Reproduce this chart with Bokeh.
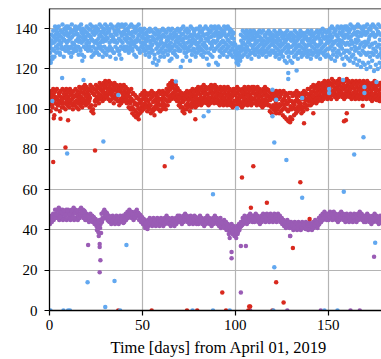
import numpy as np
from bokeh.plotting import figure
from bokeh.models import Range1d, Span, FixedTicker, Title
from bokeh.embed import file_html
from bokeh.resources import INLINE

DAYS = list(range(179))
X_TICKS = [0, 50, 100, 150]
Y_TICKS = [0, 20, 40, 60, 80, 100, 120, 140]
X_LABEL = "Time [days] from April 01, 2019"

# ---- blue series (six samples per day) ----
BLUE_A = [135,137,139,141,140,141,139,142,140,141, 141,140,142,139,141,140,141,142,140,139,
          141,140,142,141,139,141,140,142,141,140, 142,141,140,142,141,139,141,142,141,142,
          141,142,140,141,142,141,140,141,142,140, 139,140,138,139,140,139,138,140,139,138,
          139,140,139,138,140,139,140,138,139,140, 139,140,141,139,140,139,141,140,139,140,
          140,141,139,140,141,140,139,141,140,141, 140,141,140,139,141,140,141,140,139,138,
          132,130,131,137,139,138,139,138,139,138, 139,138,137,139,138,139,137,138,139,138,
          137,139,138,137,139,138,137,138,139,137, 138,137,139,138,137,139,138,137,138,139,
          138,139,137,138,139,138,139,140,139,138, 139,140,141,140,139,141,140,141,140,141,
          141,140,142,141,140,141,142,141,140,141, 141,142,140,141,142,141,140,142,141]
BLUE_B = [131,134,136,137,138,137,136,138,137,138, 137,138,136,137,139,137,136,138,137,136,
          138,137,136,138,137,138,139,137,136,138, 137,138,139,137,136,138,137,139,138,137,
          138,137,139,138,137,136,138,139,137,138, 136,135,137,136,134,136,135,137,135,136,
          135,137,136,134,136,137,135,136,137,135, 136,137,135,136,138,136,137,135,137,136,
          137,136,138,137,135,137,138,136,137,138, 137,138,136,137,138,136,137,138,136,135,
          129,127,128,134,136,135,136,135,137,136, 135,136,134,136,135,134,136,135,134,136,
          135,134,136,135,134,136,135,134,135,136, 134,135,136,134,135,136,134,135,136,134,
          135,136,134,135,136,135,134,136,135,136, 136,137,136,138,137,136,138,137,136,137,
          137,138,136,137,138,137,136,138,137,138, 137,138,136,137,138,136,137,138,137]
BLUE_C = [128,130,133,134,135,134,133,135,134,133, 134,135,133,132,134,135,134,133,134,135,
          134,133,135,134,133,134,135,133,134,135, 134,135,133,134,135,134,133,135,134,133,
          135,134,133,135,134,133,134,135,134,133, 133,132,134,131,133,132,134,133,131,132,
          133,131,132,134,132,133,131,132,134,133, 132,134,133,131,133,134,132,133,134,132,
          133,134,132,133,131,134,133,132,134,133, 134,132,133,134,133,132,134,133,132,133,
          127,126,127,131,133,132,131,133,132,131, 132,133,131,132,133,131,132,133,131,132,
          132,131,133,132,131,132,133,131,132,131, 131,132,133,131,132,131,133,132,131,132,
          132,131,133,132,131,132,133,131,132,133, 133,134,132,133,134,132,133,134,133,132,
          133,132,134,133,131,133,134,132,133,131, 132,133,131,132,130,133,131,132,130]
BLUE_D = [124,126,129,131,130,128,131,130,129,131, 130,131,128,130,129,131,130,127,131,130,
          131,130,129,131,128,130,131,130,129,131, 130,129,131,130,128,131,130,129,131,130,
          131,130,129,131,130,132,131,130,129,131, 130,129,131,128,130,129,127,130,128,129,
          130,128,129,131,129,130,128,129,131,130, 129,131,130,128,130,131,129,130,128,130,
          131,130,129,131,130,128,130,131,129,130, 131,129,130,131,129,130,131,129,130,129,
          125,124,125,129,130,129,130,129,128,130, 129,130,128,129,130,128,129,130,128,129,
          129,128,130,129,128,129,130,128,129,128, 128,129,130,128,129,128,130,129,128,129,
          129,128,130,129,128,129,130,128,129,130, 130,131,129,130,128,129,131,130,128,129,
          129,128,130,127,129,130,128,127,129,128, 127,128,126,128,127,129,126,127,128]
BLUE_E = [123,125,126,128,132,127,130,126,131,129, 128,126,130,129,131,127,129,124,126,130,
          129,131,126,127,130,128,127,131,126,128, 127,130,126,129,128,125,129,127,125,130,
          129,131,128,130,129,127,126,130,128,131, 129,127,130,126,128,123,125,122,124,126,
          128,126,129,127,124,125,128,127,126,129, 121,124,128,126,129,124,127,129,126,128,
          129,127,126,128,125,122,127,126,129,123, 122,126,128,127,129,126,128,127,126,128,
          123,122,124,126,127,128,126,127,125,128, 127,129,126,128,127,129,126,128,127,129,
          128,126,127,125,127,126,124,123,126,124, 123,126,127,125,128,126,127,128,126,127,
          125,127,128,126,127,125,128,127,126,127, 126,125,127,124,126,128,127,125,122,126,
          125,124,126,123,125,122,124,121,123,122, 120,123,121,124,119,122,120,123,121]
BLUE_F = [132.5,129.5,135.5,138.5,136.5,132.5,138.5,134.5,139.5,136.5,
          135.5,138.5,132.5,140.5,137.5,133.5,139.5,135.5,138.5,132.5,
          136.5,139.5,134.5,137.5,140.5,132.5,136.5,138.5,133.5,139.5,
          135.5,138.5,136.5,140.5,133.5,137.5,139.5,134.5,136.5,138.5,
          139.5,135.5,137.5,132.5,138.5,140.5,133.5,136.5,139.5,135.5,
          137.5,133.5,135.5,138.5,131.5,134.5,137.5,132.5,136.5,133.5,
          136.5,132.5,138.5,134.5,130.5,135.5,137.5,133.5,135.5,138.5,
          134.5,137.5,131.5,135.5,138.5,133.5,136.5,138.5,132.5,135.5,
          138.5,134.5,136.5,131.5,137.5,135.5,138.5,133.5,136.5,139.5,
          135.5,137.5,133.5,138.5,136.5,134.5,139.5,135.5,137.5,131.5,
          128.5,125.5,129.5,132.5,135.5,137.5,133.5,136.5,134.5,137.5,
          133.5,136.5,138.5,134.5,132.5,136.5,133.5,137.5,135.5,133.5,
          136.5,133.5,134.5,137.5,132.5,135.5,133.5,136.5,130.5,134.5,
          136.5,133.5,131.5,135.5,137.5,133.5,136.5,130.5,134.5,137.5,
          133.5,137.5,135.5,131.5,136.5,133.5,137.5,135.5,138.5,134.5,
          138.5,135.5,133.5,139.5,136.5,134.5,131.5,138.5,135.5,139.5,
          135.5,139.5,132.5,137.5,134.5,138.5,130.5,136.5,139.5,133.5,
          138.5,134.5,139.5,132.5,136.5,128.5,138.5,134.5,125.5]
BLUE_OUT_T = [1.5, 6.8, 18.3, 37, 68, 85.6, 83, 101, 120, 122, 136, 120, 150.5, 150.5, 158, 169.5,
              169.5, 176, 128.5, 128.5, 133, 9.5, 29, 66, 88, 121, 127.5, 136, 169, 164, 158.4,
              20.5, 35, 30, 41.4, 121, 175.3]
BLUE_OUT_V = [104, 115.5, 114.5, 107, 113.7, 99, 96.5, 100.5, 109.7, 104.7, 105.5, 96.5, 110, 108, 114.5, 111,
              108, 113.5, 118, 115, 119.2, 78, 84, 76, 57.7, 83.5, 74.7, 56, 86, 77.5, 59,
              14, 14.7, 1.7, 32.5, 21.5, 33.7]
BLUE_ZERO_T = [0.5, 7.5, 10, 11, 38, 77, 88, 97, 120.5, 148, 155]

# ---- red series (five samples per day) ----
RED_A = [108,109,110,109,110,108,109,110,109,110, 109,110,108,109,110,109,111,110,111,112,
         111,110,112,111,110,112,111,113,112,113, 114,113,114,113,112,113,112,111,112,111,
         112,111,110,109,110,108,107,106,105,107, 108,109,108,107,108,109,108,107,108,109,
         108,109,108,110,112,113,114,113,112,110, 109,108,107,108,109,108,109,110,109,110,
         111,110,111,112,111,110,111,112,111,112, 111,110,111,110,111,110,111,110,109,110,
         110,111,110,109,110,111,110,111,110,111, 111,110,111,110,109,110,111,110,109,108,
         109,108,109,108,109,108,109,108,107,108, 108,107,108,109,108,107,108,109,108,110,
         110,111,112,111,112,113,112,113,114,113, 114,113,115,114,113,114,115,114,113,114,
         115,114,113,114,113,114,113,114,113,114, 113,114,113,112,113,114,113,112,113]
RED_B = [105,106,107,106,105,107,106,105,106,107, 106,107,105,106,107,106,107,106,108,107,
         108,107,109,108,107,109,108,110,109,110, 111,110,111,110,109,110,109,108,109,108,
         109,108,107,106,105,104,103,102,103,104, 105,106,105,104,105,106,104,105,106,105,
         105,106,105,107,109,110,111,110,109,107, 106,105,104,105,106,105,106,107,106,107,
         108,107,108,109,108,107,108,109,108,109, 108,107,108,107,108,107,108,107,106,107,
         107,108,107,106,107,108,107,108,107,108, 108,107,108,107,106,107,108,107,106,105,
         106,105,106,105,106,104,105,104,103,104, 104,103,104,105,104,103,105,106,105,107,
         107,108,109,108,109,110,109,110,111,110, 111,110,112,111,110,111,112,111,110,111,
         112,111,110,111,110,111,110,111,110,111, 110,111,110,109,110,111,110,109,110]
RED_C = [103,102,104,103,102,104,103,101,103,104, 103,104,102,103,104,103,104,103,105,104,
         105,104,102,100,104,106,105,107,106,107, 108,107,108,107,106,107,106,104,105,106,
         106,105,104,103,101,100,99,98,100,101, 102,103,102,101,102,100,101,102,103,102,
         102,103,102,104,106,107,108,107,106,104, 103,101,100,102,103,102,103,104,103,104,
         105,104,105,106,105,104,105,106,105,106, 105,104,105,104,105,104,105,104,103,104,
         104,105,104,103,104,105,104,105,104,105, 105,104,105,104,103,104,105,104,102,101,
         102,101,102,101,102,100,101,100,99,100, 100,101,100,101,102,100,101,103,102,104,
         104,105,106,105,106,107,106,107,108,107, 108,107,109,108,107,108,109,108,107,108,
         109,108,107,108,107,108,107,108,107,108, 107,108,107,106,107,108,107,106,107]
RED_D = [99,101,97,100,102,99,101,103,100,102, 101,103,100,102,101,100,102,101,103,102,
         103,101,99,98,102,104,103,105,104,105, 106,105,104,105,103,105,104,102,103,104,
         104,103,101,100,98,97,96,97,98,99, 100,101,99,100,98,99,100,101,100,99,
         100,101,100,102,104,105,106,105,104,102, 101,99,98,100,101,99,101,102,101,102,
         103,102,103,104,103,102,103,104,103,104, 103,102,103,102,103,102,103,102,101,102,
         102,103,102,101,102,103,102,103,102,103, 103,102,103,102,101,102,103,102,99,98,
         100,99,100,98,99,97,96,95,94,96, 95,97,98,99,100,98,99,101,100,102,
         102,103,104,103,104,105,104,105,106,105, 106,105,107,106,105,106,107,106,105,106,
         107,106,105,106,105,106,105,106,105,106, 105,106,105,104,105,106,105,104,105]
RED_E = [107.5,104.5,108.5,105.5,103.5,108.5,104.5,107.5,105.5,108.5,
         104.5,108.5,106.5,103.5,107.5,105.5,108.5,104.5,109.5,106.5,
         109.5,105.5,110.5,107.5,104.5,110.5,106.5,111.5,108.5,111.5,
         112.5,109.5,112.5,108.5,110.5,111.5,107.5,109.5,110.5,107.5,
         110.5,106.5,108.5,104.5,107.5,102.5,105.5,100.5,104.5,102.5,
         106.5,104.5,107.5,102.5,106.5,103.5,107.5,103.5,104.5,107.5,
         103.5,107.5,104.5,108.5,110.5,111.5,112.5,108.5,110.5,105.5,
         107.5,103.5,105.5,106.5,104.5,107.5,104.5,108.5,105.5,108.5,
         109.5,105.5,109.5,107.5,110.5,105.5,109.5,107.5,110.5,106.5,
         109.5,106.5,109.5,105.5,109.5,106.5,109.5,105.5,107.5,108.5,
         105.5,109.5,106.5,108.5,105.5,109.5,106.5,109.5,105.5,109.5,
         106.5,109.5,106.5,108.5,104.5,108.5,106.5,109.5,104.5,106.5,
         107.5,103.5,107.5,102.5,107.5,102.5,106.5,102.5,105.5,101.5,
         106.5,102.5,106.5,103.5,106.5,101.5,106.5,104.5,107.5,105.5,
         108.5,106.5,110.5,107.5,110.5,108.5,111.5,108.5,112.5,109.5,
         112.5,108.5,113.5,109.5,112.5,109.5,113.5,110.5,111.5,109.5,
         113.5,109.5,111.5,112.5,108.5,112.5,109.5,112.5,108.5,112.5,
         108.5,112.5,111.5,107.5,111.5,109.5,112.5,107.5,111.5]
RED_OUT_T = [2, 8.6, 2.3, 5.9, 10, 24.5, 62, 103.6, 108.4, 48, 78.5, 109.7, 135, 117, 140,
             129.5, 129.5, 137, 159.5, 158.5, 160, 168.6, 176, 142, 122, 47.5, 56.5,
             93, 107.5, 131, 122, 126, 108]
RED_OUT_V = [73.7, 81, 95.5, 95.2, 94.5, 79.5, 71.7, 66, 51, 95, 95, 71.7, 63.7, 53.5, 45.5,
             94.5, 93.5, 93, 94.5, 94, 98, 101.7, 104.5, 98, 98, 97, 97,
             9, 2, 31, 14, 4, 2]
RED_ZERO_T = [37, 55, 74, 79.5, 95, 107, 120]

# ---- purple series (four samples per day) ----
PURPLE_A = [46,47,48,50,50,51,50,50,49,50, 50,49,50,51,50,49,50,51,50,49,
            48,47,48,47,46,45,43,45,48,49, 49,48,47,46,47,46,47,46,47,46,
            47,48,49,50,49,48,49,50,48,47, 46,45,44,45,46,45,46,45,46,45,
            46,45,46,47,46,45,46,45,46,47, 47,46,47,48,47,46,47,46,47,46,
            46,47,46,45,46,47,46,45,46,47, 46,45,46,44,45,44,43,42,43,42,
            41,42,43,44,46,47,46,47,48,47, 47,48,47,46,47,48,47,48,47,48,
            47,48,47,48,47,46,45,44,45,44, 44,43,44,43,44,43,44,43,44,43,
            44,43,44,45,44,46,47,48,49,48, 48,49,48,49,48,47,48,49,48,47,
            48,47,48,47,48,47,48,49,48,47, 47,48,47,46,47,48,47,46,47]
PURPLE_B = [43,44,45,46,46,45,46,45,46,45, 46,45,46,45,46,45,46,47,46,45,
            45,44,45,44,43,42,39,41,44,46, 46,45,44,43,44,43,44,43,44,45,
            44,45,46,47,46,45,46,47,45,44, 43,42,41,42,43,42,43,42,43,42,
            43,42,43,44,43,42,43,42,43,44, 44,43,44,45,44,43,44,43,44,43,
            43,44,43,42,43,44,43,42,43,44, 43,42,41,42,41,40,40,39,40,39,
            38,38,40,42,43,44,43,44,45,44, 44,45,44,43,44,45,44,45,44,45,
            44,45,44,45,44,43,42,41,42,41, 41,40,41,40,41,40,41,42,41,40,
            41,40,41,42,41,43,44,45,46,45, 45,46,45,46,45,44,45,46,45,44,
            45,44,45,44,45,44,45,46,45,44, 44,45,44,43,44,45,44,43,44]
PURPLE_C = [45,46,47,48,47,48,47,48,47,48, 48,47,48,49,48,47,48,49,48,47,
            47,46,46,45,44,40,37,43,46,50, 47,46,45,45,46,45,45,44,46,47,
            46,47,48,49,48,47,47,48,46,45, 44,41,42,43,44,44,45,44,44,43,
            44,44,45,45,44,44,45,44,44,45, 46,45,46,47,46,45,45,44,45,45,
            45,46,45,44,44,45,45,44,44,45, 44,43,42,43,42,41,38,40,38,37,
            36,39,42,43,45,45,45,46,47,46, 46,47,46,45,46,47,46,46,45,46,
            46,47,46,47,46,44,43,42,44,37, 42,41,42,41,43,42,43,42,42,41,
            42,42,43,44,43,45,46,47,47,46, 47,48,47,48,46,46,47,47,46,45,
            47,46,47,45,47,46,46,48,47,45, 46,47,45,44,46,47,45,44,46]
PURPLE_D = [44.5,45.5,46.5,47.5,49.5,46.5,48.5,49.5,47.5,49.5,
            47.5,49.5,46.5,48.5,49.5,46.5,47.5,48.5,49.5,46.5,
            46.5,45.5,44.5,46.5,45.5,43.5,41.5,38.5,45.5,47.5,
            48.5,44.5,46.5,44.5,45.5,44.5,45.5,44.5,45.5,43.5,
            45.5,46.5,47.5,48.5,47.5,46.5,47.5,48.5,47.5,46.5,
            45.5,43.5,40.5,43.5,44.5,43.5,44.5,43.5,44.5,44.5,
            45.5,43.5,44.5,45.5,45.5,43.5,44.5,43.5,45.5,45.5,
            45.5,44.5,45.5,46.5,45.5,44.5,46.5,45.5,46.5,44.5,
            44.5,45.5,44.5,43.5,44.5,45.5,44.5,43.5,45.5,45.5,
            45.5,44.5,43.5,41.5,43.5,42.5,41.5,40.5,39.5,40.5,
            39.5,40.5,41.5,42.5,44.5,45.5,44.5,45.5,46.5,45.5,
            45.5,46.5,45.5,44.5,45.5,46.5,45.5,47.5,46.5,46.5,
            45.5,46.5,45.5,46.5,45.5,44.5,43.5,42.5,43.5,42.5,
            42.5,41.5,43.5,42.5,42.5,41.5,42.5,40.5,42.5,42.5,
            42.5,41.5,42.5,43.5,42.5,44.5,45.5,46.5,47.5,47.5,
            46.5,47.5,46.5,47.5,47.5,45.5,46.5,47.5,47.5,46.5,
            46.5,45.5,46.5,46.5,46.5,45.5,47.5,47.5,46.5,46.5,
            45.5,46.5,46.5,45.5,45.5,46.5,46.5,45.5,45.5]
PURPLE_OUT_T = [20.8, 27, 27, 27.4, 27, 98, 98, 103, 105.7, 103, 174.7, 129.6, 97]
PURPLE_OUT_V = [32.5, 33, 31.5, 25, 19, 29, 26, 32, 32, 9, 26.7, 37, 36]
PURPLE_ZERO_T = [108, 128, 146, 162, 167]

BLUE = "#62a8f0"
RED = "#d9291e"
PURPLE = "#9a5cb5"
FONT = "Liberation Serif"


def collect(rows, out_t, out_v, zero_t):
    xs, ys = [], []
    n = len(rows)
    for k, row in enumerate(rows):
        for d, v in zip(DAYS, row):
            xs.append(d + k / n)
            ys.append(v)
    xs += list(out_t)
    ys += list(out_v)
    xs += list(zero_t)
    ys += [0] * len(zero_t)
    return xs, ys


p = figure(width=381, height=359, output_backend="svg", toolbar_location=None,
           x_range=Range1d(0, 178.7), y_range=Range1d(0, 150),
           min_border_left=49, min_border_right=0, min_border_top=8, min_border_bottom=49)
p.outline_line_color = None
p.background_fill_color = "white"
p.border_fill_color = "white"

for rows, ot, ov, zt, col in [
    ([PURPLE_A, PURPLE_B, PURPLE_C, PURPLE_D], PURPLE_OUT_T, PURPLE_OUT_V, PURPLE_ZERO_T, PURPLE),
    ([RED_A, RED_B, RED_C, RED_D, RED_E], RED_OUT_T, RED_OUT_V, RED_ZERO_T, RED),
    ([BLUE_A, BLUE_B, BLUE_C, BLUE_D, BLUE_E, BLUE_F], BLUE_OUT_T, BLUE_OUT_V, BLUE_ZERO_T, BLUE),
]:
    xs, ys = collect(rows, ot, ov, zt)
    p.scatter(xs, ys, size=4.5, fill_color=col, line_color=None)

p.xaxis.ticker = FixedTicker(ticks=X_TICKS)
p.yaxis.ticker = FixedTicker(ticks=Y_TICKS)
for ax in (p.xaxis, p.yaxis):
    ax.axis_line_color = "black"
    ax.axis_line_width = 1.3
    ax.major_tick_line_color = "black"
    ax.major_tick_line_width = 1.2
    ax.major_tick_in = 0
    ax.major_tick_out = 5
    ax.minor_tick_line_color = None
    ax.major_label_text_font = FONT
    ax.major_label_text_font_size = "15px"
    ax.major_label_text_color = "black"
p.yaxis.major_label_standoff = 7
p.xaxis.major_label_standoff = 4

p.xgrid.grid_line_color = "#b4b4b4"
p.ygrid.grid_line_color = "#b4b4b4"
p.xgrid.grid_line_width = 1.2
p.ygrid.grid_line_width = 1.2

p.add_layout(Span(location=150, dimension="width", line_color="black", line_width=1.3))
p.add_layout(Title(text=X_LABEL, align="left", offset=61, text_font=FONT,
                   text_font_size="16.5px", text_font_style="normal", text_color="black",
                   standoff=6), "below")

open("out.html", "w").write(file_html(p, INLINE))
